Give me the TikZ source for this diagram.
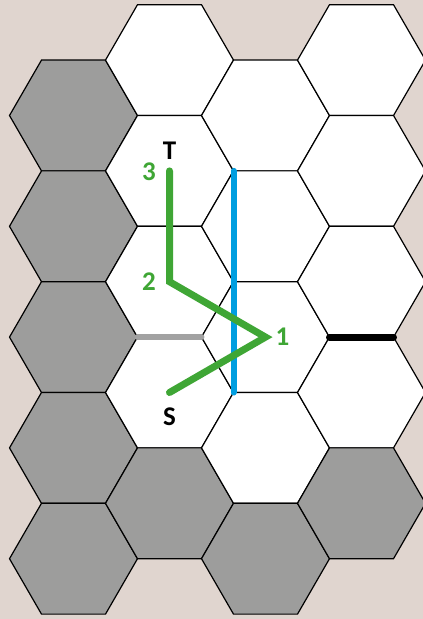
\documentclass[tikz,border=0pt]{standalone}
\usepackage{fontspec}
\setmainfont{Carlito}
\usetikzlibrary{shapes.geometric}
\definecolor{boardbg}{RGB}{224,213,207}
\definecolor{cellgray}{RGB}{157,157,156}
\definecolor{pathgreen}{RGB}{63,166,53}
\definecolor{wallblue}{RGB}{0,158,224}
\definecolor{edgegray}{RGB}{162,162,162}
\tikzset{
	hexcell/.style={draw,regular polygon,regular polygon sides=6,minimum size=128pt,inner sep=0pt,outer sep=0pt,line width=1.2pt},
	termlabel/.style={font=\fontsize{27}{27}\selectfont\bfseries,text=black,inner sep=0pt},
	steplabel/.style={font=\fontsize{27}{27}\selectfont\bfseries,text=pathgreen,inner sep=0pt},
	routeline/.style={draw=pathgreen,line width=7pt,line cap=round,line join=miter},
	blockline/.style={line width=6pt,line cap=round}
}
\begin{document}
\begin{tikzpicture}[x=1pt,y=-1pt]
			
			\useasboundingbox (0,0) rectangle (423,619);
			\fill[boardbg] (0,0) rectangle (423,619);
			\clip (0,0) rectangle (423,619);
			
			\foreach \c in {0,...,3}{
				\foreach \r in {0,...,4}{
					\pgfmathsetmacro\cx{73.5+96*\c}
					\pgfmathsetmacro\cy{ifthenelse(isodd(\c),60.1,115.5)+110.8*\r}
					\pgfmathtruncatemacro\isgray{or(\c==0,\r==4)}
					\ifnum\isgray=1 \def\cellfill{cellgray}\else\def\cellfill{white}\fi
					\node[hexcell,fill=\cellfill] (h\c-\r) at (\cx,\cy) {};
				}
			}
			
			\draw[blockline,draw=edgegray] (h1-2.240)--(h1-2.300);
			\draw[blockline,draw=black,line width=7pt] (h3-2.240)--(h3-2.300);
			\draw[blockline,draw=wallblue] (h1-1.0)--(h1-3.0);
			
			\draw[routeline] (h1-3.center)--(h2-2.center)--(h1-2.center)--(h1-1.center);
			
			\node[termlabel] (lblT) at ([yshift=20pt]h1-1.center) {T};
			\node[termlabel] (lblS) at ([yshift=-24.5pt]h1-3.center) {S};
			\node[steplabel] (lbl3) at ([xshift=-20.5pt,yshift=-1pt]h1-1.center) {3};
			\node[steplabel] (lbl2) at ([xshift=-20.5pt]h1-2.center) {2};
			\node[steplabel] (lbl1) at ([xshift=17pt]h2-2.center) {1};
			
		\end{tikzpicture}
\end{document}
